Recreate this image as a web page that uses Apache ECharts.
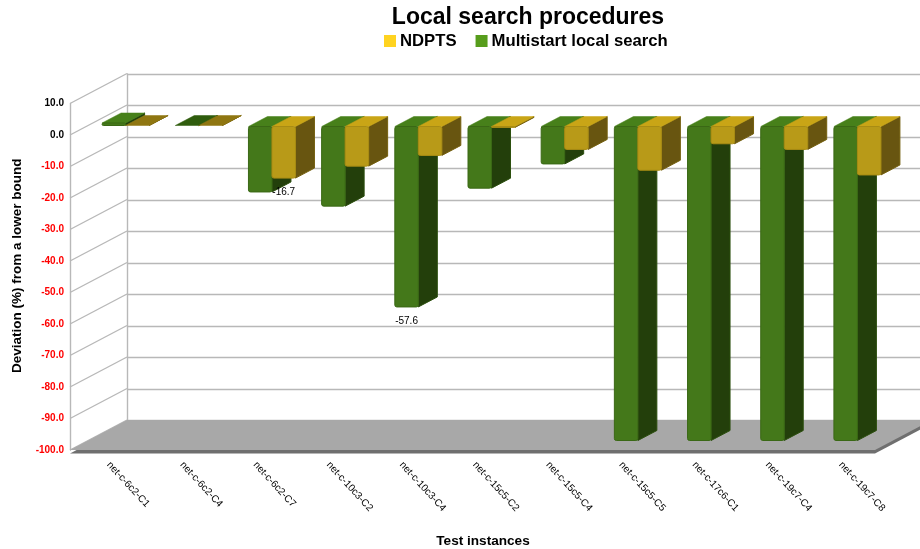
<!DOCTYPE html>
<html>
<head>
<meta charset="utf-8">
<title>Local search procedures</title>
<style>html,body{margin:0;padding:0;background:#fff}#chart{width:920px;height:549px}</style>
<script src="https://cdn.jsdelivr.net/npm/echarts@6/dist/echarts.min.js"></script>
</head>
<body>
<div id="chart"></div>
<script>
const categories = ['net-c-6c2-C1','net-c-6c2-C4','net-c-6c2-C7','net-c-10c3-C2','net-c-10c3-C4','net-c-15c5-C2','net-c-15c5-C4','net-c-15c5-C5','net-c-17c6-C1','net-c-19c7-C4','net-c-19c7-C8'];
const ndpts = [0, 0, -16.7, -12.9, -9.5, -0.6, -7.6, -14.2, -5.8, -7.6, -15.7];
const multistart = [0.8, 0, -21.1, -25.6, -57.6, -19.9, -12.2, -100, -100, -100, -100];
const yTicks = [10, 0, -10, -20, -30, -40, -50, -60, -70, -80, -90, -100];
// Bars that carry a printed value: category index for each series
const labelledNdpts = [2];
const labelledMultistart = [4];

const FONT = '"Liberation Sans", Arial, sans-serif';
const WALL_DX = 57, WALL_DY = -30;      // depth of the whole box
const PLANE_DX = 19, PLANE_DY = -9.5;   // front plane of the bars inside the box
const BAR_DX = 19, BAR_DY = -10;        // depth of a single bar
const BAR_W = 23.5;

const GREEN = { front: '#44781a', edge: '#3a6815', side: '#233f0b', sideEdge: '#2c4f0e', top: '#47801a', flat: '#2f5c0d' };
const YELLOW = { front: '#b89a18', edge: '#a88c14', side: '#685510', sideEdge: '#75600f', top: '#c9a516', flat: '#8f7611' };

// One extruded column, built on the category and value scales
function barRenderer(colors, side, labelled) {
  return function (params, api) {
    const idx = api.value(0), val = api.value(1);
    const zero = api.coord([idx, 0]);
    const end = api.coord([idx, val]);
    const x0 = zero[0] + PLANE_DX + (side < 0 ? -BAR_W : 0);
    const x1 = x0 + BAR_W;
    const base = zero[1] + PLANE_DY;
    const tip = end[1] + PLANE_DY;
    const top = val < 0 ? base + 1 : Math.min(base, tip);
    const bottom = val < 0 ? Math.max(tip, top) : base;
    const children = [];
    children.push({
      type: 'polygon',
      shape: { points: [[x1, top], [x1 + BAR_DX, top + BAR_DY], [x1 + BAR_DX, bottom + BAR_DY], [x1, bottom]] },
      style: { fill: colors.side, stroke: colors.sideEdge, lineWidth: 1, lineJoin: 'round' }
    });
    children.push({
      type: 'polygon',
      shape: { points: [[x0, top], [x0 + BAR_DX, top + BAR_DY], [x1 + BAR_DX, top + BAR_DY], [x1, top]] },
      style: { fill: val === 0 ? colors.flat : colors.top, stroke: val === 0 ? colors.flat : colors.top, lineWidth: 0.5 }
    });
    if (bottom - top > 0.5) {
      children.push({
        type: 'rect',
        shape: { x: x0, y: top, width: BAR_W, height: bottom - top, r: 2 },
        style: { fill: colors.front, stroke: colors.edge, lineWidth: 1 }
      });
    }
    if (labelled.indexOf(idx) >= 0) {
      children.push({
        type: 'text',
        z2: 10,
        style: {
          text: val.toFixed(1), x: (x0 + x1) / 2, y: bottom + 14,
          align: 'center', verticalAlign: 'middle',
          fill: '#000', font: '10px ' + FONT
        }
      });
    }
    return { type: 'group', children: children };
  };
}

// Floor of the box, with a darker rim under its front and right edges
function renderFloor(params, api) {
  const cs = params.coordSys;
  const y = api.coord([0, -100])[1];
  const l = cs.x, r = cs.x + cs.width;
  const pts = [[l, y], [r, y], [r + WALL_DX, y + WALL_DY], [l + WALL_DX, y + WALL_DY]];
  return {
    type: 'group',
    children: [
      {
        type: 'polygon',
        shape: { points: pts.map(p => [p[0], p[1] + 3.5]) },
        style: { fill: '#6f6f6f' }
      },
      { type: 'polygon', shape: { points: pts }, style: { fill: '#a8a8a8' } }
    ]
  };
}

// Slanted grid lines of the left wall
function renderWallLine(params, api) {
  const p = api.coord([0, api.value(1)]);
  const x = params.coordSys.x;
  return {
    type: 'line',
    shape: { x1: x, y1: p[1], x2: x + WALL_DX, y2: p[1] + WALL_DY },
    style: { stroke: '#b8b8b8', lineWidth: 1.4 }
  };
}

const gridLine = { color: '#b8b8b8', width: 1.4 };

const option = {
  animation: false,
  backgroundColor: '#fff',
  title: [
    { text: 'Local search procedures', left: 523, top: 1, textAlign: 'center',
      textStyle: { fontFamily: FONT, fontSize: 23, fontWeight: 'bold', color: '#000' } },
    { text: 'Test instances', left: 478, top: 529, textAlign: 'center',
      textStyle: { fontFamily: FONT, fontSize: 13.6, fontWeight: 'bold', color: '#000' } }
  ],
  legend: {
    data: ['NDPTS', 'Multistart local search'],
    left: 384, top: 32.5, padding: 0, itemWidth: 12, itemHeight: 12, itemGap: 19,
    icon: 'rect',
    textStyle: { fontFamily: FONT, fontSize: 16.7, fontWeight: 'bold', color: '#000', padding: [0, 0, 0, -1] }
  },
  grid: [
    { left: 70, top: 103.5, width: 805, height: 346.5 },
    { left: 127, top: 74, width: 805, height: 346.5 }
  ],
  xAxis: [
    {
      type: 'category', gridIndex: 0, data: categories, position: 'bottom',
      axisLine: { show: false, onZero: false }, axisTick: { show: false },
      axisLabel: {
        interval: 0, rotate: -47.5, margin: 11, color: '#000',
        fontFamily: FONT, fontSize: 10, padding: [0, 0, 0, 3]
      }
    },
    { type: 'category', gridIndex: 1, data: categories, show: false }
  ],
  yAxis: [
    {
      type: 'value', gridIndex: 0, min: -100, max: 10, interval: 10,
      axisLine: { show: true, lineStyle: gridLine }, axisTick: { show: false }, splitLine: { show: false },
      axisLabel: {
        margin: 6, fontFamily: FONT, fontSize: 10, fontWeight: 'bold',
        color: v => (v < 0 ? '#ff0000' : '#000000'),
        formatter: v => v.toFixed(1)
      },
      name: 'Deviation (%) from a lower bound', nameLocation: 'middle', nameGap: 40,
      nameTextStyle: { fontFamily: FONT, fontSize: 13.5, fontWeight: 'bold', color: '#000', padding: [0, 0, 0, 22] }
    },
    {
      type: 'value', gridIndex: 1, min: -100, max: 10, interval: 10,
      axisLine: { show: true, lineStyle: gridLine }, axisTick: { show: false }, axisLabel: { show: false },
      splitLine: { show: true, lineStyle: gridLine }
    }
  ],
  series: [
    {
      type: 'custom', name: 'wall', z: 1, silent: true,
      data: yTicks.map(v => [0, v]), renderItem: renderWallLine
    },
    {
      type: 'custom', name: 'floor', z: 2, silent: true,
      data: [[0, -100]], renderItem: renderFloor
    },
    {
      type: 'custom', name: 'Multistart local search', z: 3,
      itemStyle: { color: '#579d1c' },
      data: multistart.map((v, i) => [i, v]),
      renderItem: barRenderer(GREEN, -1, labelledMultistart)
    },
    {
      type: 'custom', name: 'NDPTS', z: 4,
      itemStyle: { color: '#ffd320' },
      data: ndpts.map((v, i) => [i, v]),
      renderItem: barRenderer(YELLOW, 1, labelledNdpts)
    }
  ]
};

echarts.init(document.getElementById('chart'), null, { renderer: 'canvas' }).setOption(option);
</script>
</body>
</html>
